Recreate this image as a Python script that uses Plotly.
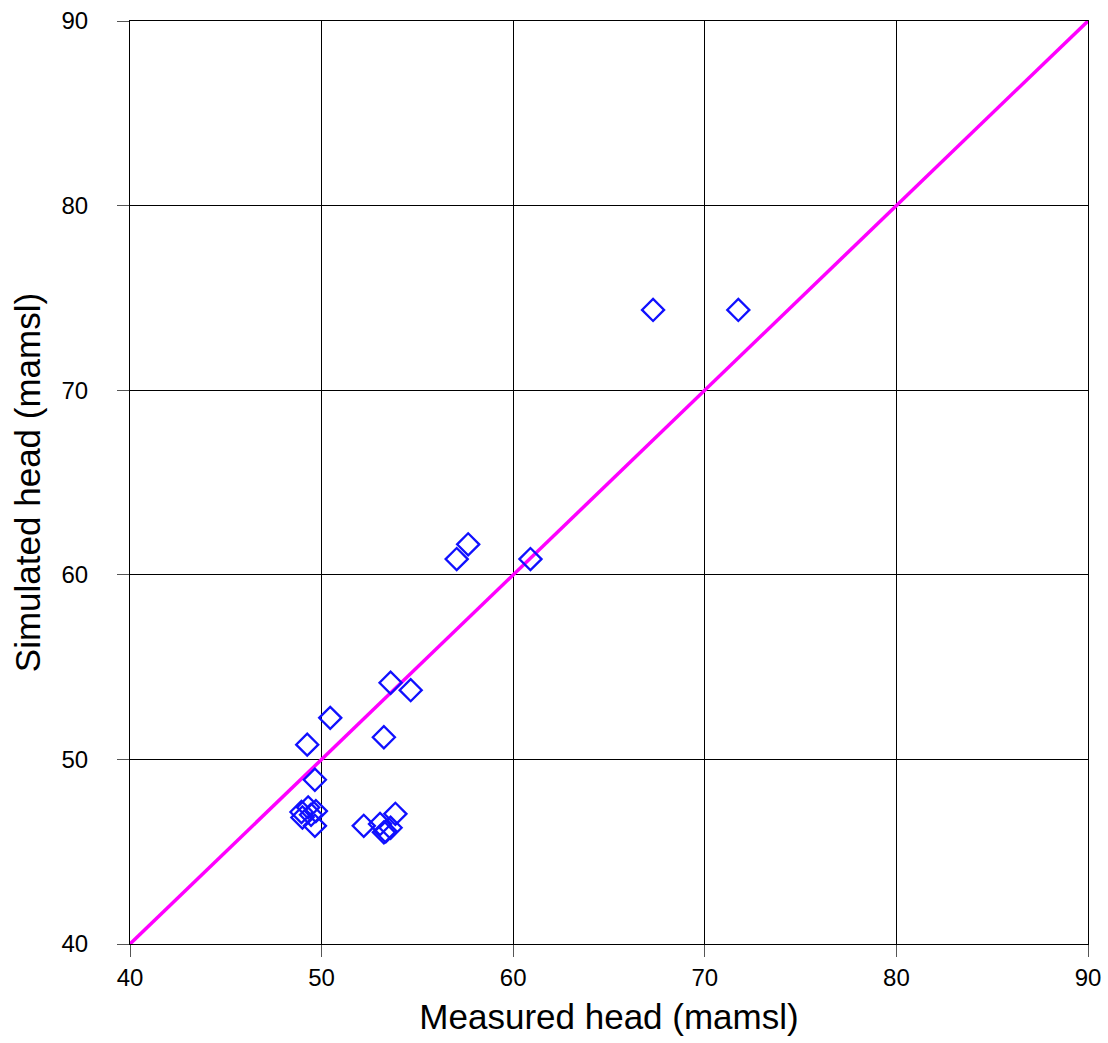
import plotly.graph_objects as go

measured = [67.3, 71.75, 57.05, 57.65, 60.9, 53.6, 54.65, 50.45, 49.25, 53.25, 49.65,
            49.3, 49.7, 48.95, 49.45, 49.65, 49.0, 52.2, 53.05, 53.35, 53.6, 53.85, 53.25]
simulated = [74.35, 74.35, 60.85, 61.65, 60.85, 54.15, 53.75, 52.25, 50.8, 51.2, 48.9,
             47.4, 47.2, 47.15, 47.0, 46.4, 46.85, 46.4, 46.5, 46.1, 46.3, 47.05, 46.05]
line_x = [40, 90]
line_y = [40, 90]

fig = go.Figure()
fig.add_trace(go.Scatter(x=line_x, y=line_y, mode="lines",
                         line=dict(color="#ff00ff", width=3.5), showlegend=False))
fig.add_trace(go.Scatter(x=measured, y=simulated, mode="markers",
                         marker=dict(symbol="diamond-open", size=17, color="#1010ff",
                                     line=dict(color="#1010ff", width=2.3)),
                         showlegend=False))

axis_common = dict(range=[40, 90], dtick=10, showgrid=True, gridcolor="black", gridwidth=1,
                   showline=True, linecolor="black", linewidth=1, mirror=True,
                   ticks="outside", ticklen=12, tickcolor="#555555",
                   tickfont=dict(family="Liberation Sans, Arial", size=24, color="black"),
                   zeroline=False, automargin=False)

fig.update_layout(
    width=1108, height=1043,
    margin=dict(l=130, r=20, t=21, b=99),
    plot_bgcolor="white", paper_bgcolor="white",
    xaxis=dict(**axis_common,
               title=dict(text="Measured head (mamsl)", standoff=14,
                          font=dict(family="Liberation Sans, Arial", size=35, color="black"))),
    yaxis=dict(**axis_common, ticklabelstandoff=24,
               title=dict(text="Simulated head (mamsl)", standoff=10,
                          font=dict(family="Liberation Sans, Arial", size=35, color="black"))),
)

fig.write_html("out.html", config={"displayModeBar": False},
               post_script="document.body.style.margin='0';")
